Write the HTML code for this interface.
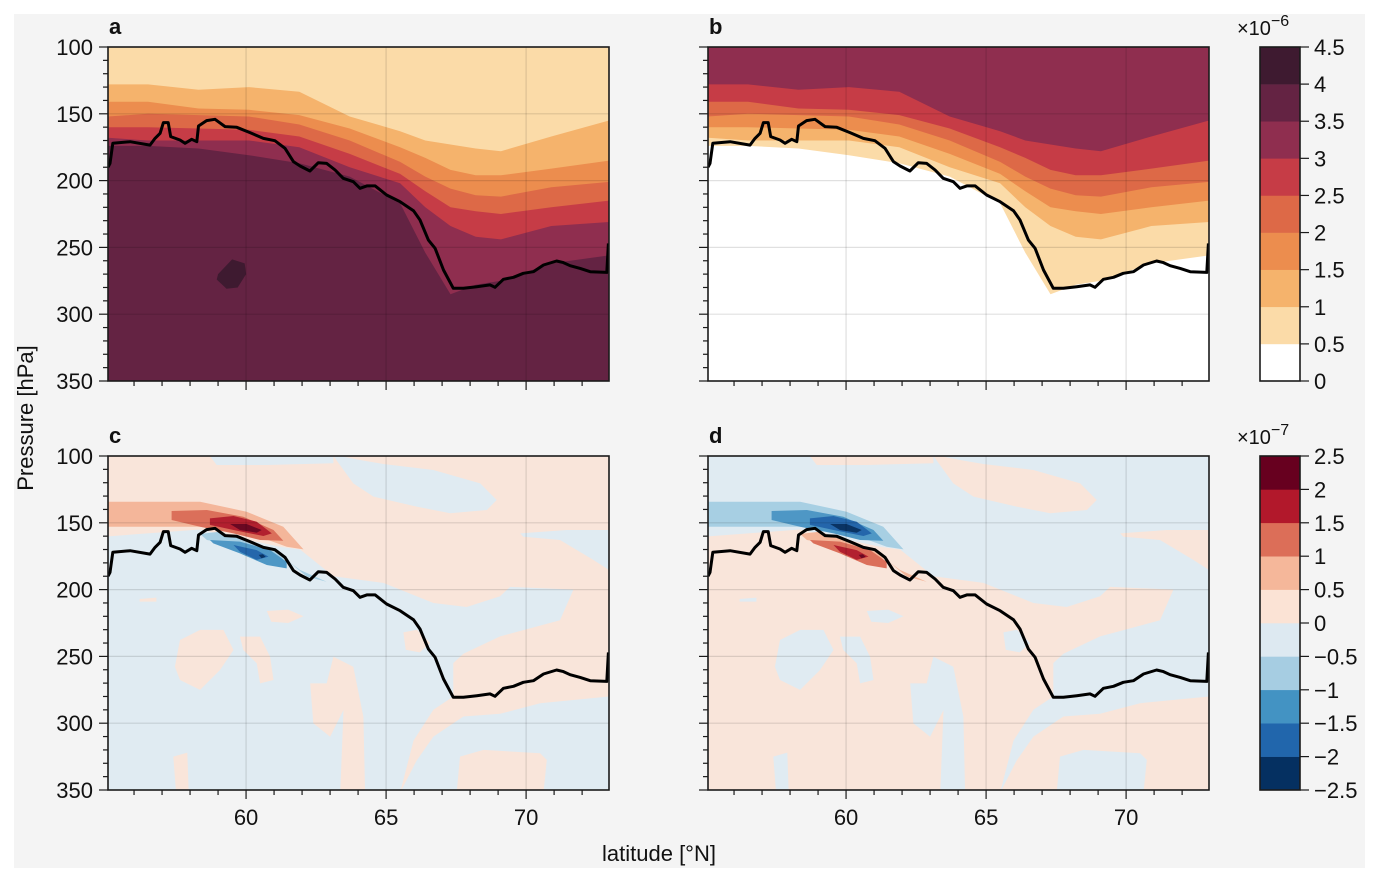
<!DOCTYPE html>
<html><head><meta charset="utf-8"><style>
body{margin:0;background:#fff}
svg{display:block;font-family:"Liberation Sans",sans-serif}
</style></head><body>
<svg id="fig" width="1379" height="882" viewBox="0 0 1379 882">
<rect x="14" y="14" width="1351" height="854" fill="#f4f4f4"/>
</svg>
<script>
// ---- data ----
const bLats = [55.07,56.5,58.3,60.1,61.9,63.7,65.5,66.4,67.3,68.2,69.1,70.9,72.96];
const bnd1 = [128,128,132,130,133.5,152,163,170,173,176,178,167,155];
const bnd2 = [141,141,146,147,151,161,175,183,192,196,196,191,185];
const bnd3 = [152,150,151,152,158,170,186,197,206,211,212,205,201];
const bnd4 = [160,160,161,162,167,180,195,208,220,223,225,220,215];
const bnd5 = [168,170,170,170,175,190,202,220,234,242,244,234,231];
const bnd6 = [174,174,176,181,187,197,217,254,285,278,275,262,256];
const blobLat = [59.0,59.5,59.95,60.0,59.7,59.3,58.95];
const blobP = [270,259,262,270,280,281,274];
const tropLat = [55.07,55.14,55.24,55.86,56.57,56.75,56.93,57.05,57.22,57.31,57.64,57.82,58.06,58.24,58.30,58.59,58.89,59.25,59.67,60.14,60.62,61.03,61.39,61.69,61.93,62.28,62.58,62.88,63.18,63.47,63.83,64.07,64.31,64.61,65.02,65.5,65.98,66.21,66.51,66.75,67.05,67.40,67.76,68.24,68.71,68.89,69.19,69.55,69.9,70.26,70.62,71.09,71.33,71.57,71.93,72.29,72.88,72.94];
const tropP = [190,187.1,172.1,170.9,173.4,168.4,164.6,156.6,156.6,167.1,169.6,172.1,169.1,170.9,159.1,155.1,154.1,159.6,160.1,164.1,168.4,170.1,175.8,185.8,189.1,192.8,186.6,187.1,192.1,198.3,200.8,205.8,204.0,204.0,210.8,215.8,222.5,229.5,244.5,250.7,266.9,280.6,280.6,279.4,278.1,279.9,273.9,272.4,269.4,268.2,263.2,260.2,261.4,263.7,265.7,268.2,268.7,247.0];
// anomaly patches (panel c sign; panel d is negated)
const patchLevel = [1,-1,-1,-1,1,1,1,1,1,1,1,1,2,3,4,5,-2,-3,-4,-5];
const patchLat = [
 [55.07,72.96,72.96,70.5,69.07,67.76,66.69,66.09,65.5,65.98,66.69,67.4,67.4,67.76,69.07,71.21,71.69,69.43,69.07,67.88,66.69,64.9,63.12,61.93,61.21,58.36,55.14,55.07],
 [58.71,63.12,63.12,60.74,58.95],
 [63.12,63.83,64.55,66.09,67.29,68.6,68.95,68.36,66.69,64.9,64.07,63.36],
 [69.79,71.45,72.96,72.96,72.4,71.21,69.9],
 [67.52,67.64,68.48,70.5,70.74,70.62],
 [57.64,58.36,59.19,59.55,59.07,58.36,57.64,57.46],
 [59.78,60.5,60.86,60.98,60.5,60.38,59.9],
 [63.12,63.83,64.19,64.25,63.36,63.48,63.0,62.4,62.29,62.88],
 [60.74,61.5,62.05,61.5,60.9],
 [65.62,66.1,66.57,66.2,65.7],
 [57.4,57.9,57.95,57.5],
 [56.2,56.8,56.8,56.2],
 [55.07,58.36,60.02,61.33,62.05,61.45,60.14,58.36,55.07],
 [57.34,58.6,59.9,60.98,61.33,60.5,59.55,58.36,57.34],
 [58.71,59.55,60.38,60.92,60.62,59.55,58.71],
 [59.43,60.02,60.56,60.38,59.78],
 [58.36,59.07,60.98,61.93,62.88,62.17,61.45,60.02,58.6,58.36],
 [58.71,59.78,60.86,61.45,61.45,60.74,59.78,58.83],
 [59.55,60.38,60.8,60.38,59.78],
 [60.45,60.6,60.7,60.55]];
const patchP = [
 [100,100,280,285,293,295,310,328,352,313,290,280,255,248,235,223,200,198,205,213,210,195,190,170,168,155,160,160],
 [100,100,105.5,106.7,106.7],
 [100,120.5,130.4,137.9,142.9,140.4,132.9,120.5,110.5,106,103,100],
 [157.9,155.4,155.4,185.3,177.8,162.9,160.4],
 [352,325,320,322.5,327.5,352],
 [237.7,230.2,230.2,245.2,260.2,275.1,267.7,257.7],
 [235.2,235.2,250.2,267.7,270.2,255.2,245.2],
 [250.2,257.7,295.1,352.5,352.5,290.1,310.1,300.1,270.2,270.2],
 [216,215,220,225,224],
 [232,230,240,247,245],
 [325,322,352,352],
 [207,206,209,209],
 [134.2,134.2,141.7,152.9,169.9,167.9,157.9,152.9,152.9],
 [141.2,140.4,145.4,155.4,163.4,162.9,157.9,152.9,147.9],
 [146.7,144.9,149.2,157.9,159.9,155.4,151.6],
 [150.9,150.9,155.4,157.4,155.4],
 [158.4,156.6,170.4,185.3,194.1,190.3,177.8,167.9,162.9,158.4],
 [162.9,164.1,170.4,179.1,184.1,181.6,172.9,165.4],
 [166.6,170.4,175.3,177.8,171.6],
 [174,173.5,175.5,176.5]];
const yTicks = [100,150,200,250,300,350];
const xTicks = [60,65,70];
const cbTopTicks = ['0','0.5','1','1.5','2','2.5','3','3.5','4','4.5'];
const cbBotTicks = ['\u22122.5','\u22122','\u22121.5','\u22121','\u22120.5','0','0.5','1','1.5','2','2.5'];
// ---- rendering ----
const NS='http://www.w3.org/2000/svg', svg=document.getElementById('fig');
const LAT0=55.07, LAT1=72.96, W=501, H=334, FS=22;
const seqCols=['#ffffff','#fbdba8','#f5b36c','#ec8d4e','#dd6947','#c63c46','#8f2e4f','#642343','#3e1a30'];
const divCol={'1':'#f9e5da','2':'#f4b69a','3':'#db6f5a','4':'#b2202f','5':'#6a0822','-1':'#e0ebf2','-2':'#a7cfe3','-3':'#4e97c5','-4':'#2466ab','-5':'#0a3464'};
function mk(tag,attrs,parent){const e=document.createElementNS(NS,tag);for(const k in attrs)e.setAttribute(k,attrs[k]);(parent||svg).appendChild(e);return e;}
function makeAxes(x0,y0){return {X:l=>x0+(l-LAT0)/(LAT1-LAT0)*W, Y:p=>y0+(p-100)/250*H};}
function polyPts(ax,la,pa){return la.map((l,i)=>ax.X(l).toFixed(1)+','+ax.Y(pa[i]).toFixed(1)).join(' ');}
const boundaries=[bnd1,bnd2,bnd3,bnd4,bnd5,bnd6];
const panels=[{id:'a',x:108,y:47,type:'total'},{id:'b',x:708,y:47,type:'part'},{id:'c',x:108,y:456,type:'anom',sign:1},{id:'d',x:708,y:456,type:'anom',sign:-1}];
panels.forEach((pn,pi)=>{
 const ax=makeAxes(pn.x,pn.y);
 const cp=mk('clipPath',{id:'clip'+pn.id});mk('rect',{x:pn.x,y:pn.y,width:W,height:H},cp);
 const g=mk('g',{'clip-path':'url(#clip'+pn.id+')'});
 
 
 if(pn.type!=='anom'){
  const order = pn.type==='total' ? [1,2,3,4,5,6,7] : [6,5,4,3,2,1,0];
  const bg=mk('rect',{x:pn.x,y:pn.y,width:W,height:H,fill:seqCols[order[0]]},g);
  
  
  boundaries.forEach((b,k)=>{
   const la=bLats.concat([LAT1,LAT0]), pa=b.concat([360,360]);
   const e=mk('polygon',{points:polyPts(ax,la,pa),fill:seqCols[order[k+1]]},g);
   
   
  });
  if(pn.type==='total'){
   const e=mk('polygon',{points:polyPts(ax,blobLat,blobP),fill:seqCols[8]},g);
   
   
  }
 } else {
  const bg=mk('rect',{x:pn.x,y:pn.y,width:W,height:H,fill:divCol[String(-1*pn.sign)]},g);
  
  
  patchLevel.forEach((lv,i)=>{
   const e=mk('polygon',{points:polyPts(ax,patchLat[i],patchP[i]),fill:divCol[String(lv*pn.sign)]},g);
   
   
  });
 }
 xTicks.forEach(t=>{const e=mk('line',{x1:ax.X(t),x2:ax.X(t),y1:pn.y,y2:pn.y+H,stroke:'#000','stroke-opacity':0.12,'stroke-width':1.2},g);
  });
 yTicks.slice(1,-1).forEach(t=>{const e=mk('line',{x1:pn.x,x2:pn.x+W,y1:ax.Y(t),y2:ax.Y(t),stroke:'#000','stroke-opacity':0.12,'stroke-width':1.2},g);
  });
 const tl=mk('polyline',{points:polyPts(ax,tropLat,tropP),fill:'none',stroke:'#000','stroke-width':3,'stroke-linejoin':'round'},g);
 
 
 const fr=mk('rect',{x:pn.x,y:pn.y,width:W,height:H,fill:'none',stroke:'#1a1a1a','stroke-width':1.6});
 
 
 for(let l=56;l<=72;l++){const maj=xTicks.includes(l);
  const e=mk('line',{x1:ax.X(l),x2:ax.X(l),y1:pn.y+H,y2:pn.y+H+(maj?9:5),stroke:'#1a1a1a','stroke-width':1.2});
  }
 for(let p=100;p<=350;p+=10){const maj=p%50===0;
  const e=mk('line',{x1:pn.x,x2:pn.x-(maj?9:5),y1:ax.Y(p),y2:ax.Y(p),stroke:'#1a1a1a','stroke-width':1.2});
  }
 if(pn.id==='a'||pn.id==='c'){yTicks.forEach(t=>{const e=mk('text',{x:pn.x-15,y:ax.Y(t)+8,'text-anchor':'end','font-size':FS,fill:'#111'});e.textContent=t;
  });}
 if(pn.id==='c'||pn.id==='d'){xTicks.forEach(t=>{const e=mk('text',{x:ax.X(t),y:pn.y+H+35,'text-anchor':'middle','font-size':FS,fill:'#111'});e.textContent=t;
  });}
 const lb=mk('text',{x:pn.x+1,y:pn.y-13,'font-size':FS,'font-weight':'bold',fill:'#111'});lb.textContent=pn.id;
 
});
function colorbar(y0,cols,ticks,offset,name){
 const n=cols.length,h=334/n;
 cols.forEach((c,i)=>{const e=mk('rect',{x:1260,y:y0+334-(i+1)*h,width:40,height:h+0.3,fill:c});
  });
 const f=mk('rect',{x:1260,y:y0,width:40,height:334,fill:'none',stroke:'#1a1a1a','stroke-width':1.6});
 
 ticks.forEach((t,i)=>{const y=y0+334-i*334/(ticks.length-1);
  const l=mk('line',{x1:1300,x2:1309,y1:y,y2:y,stroke:'#1a1a1a','stroke-width':1.2});
  
  const e=mk('text',{x:1314,y:y+8,'font-size':FS,fill:'#111'});e.textContent=t;
  });
 const o=mk('text',{x:1237,y:y0-12,'font-size':20,fill:'#111'});
 o.innerHTML='\u00d710<tspan dy="-9" font-size="16">'+offset+'</tspan>';
 
}
colorbar(47,seqCols.slice(0,9),cbTopTicks,'\u22126','colorbar-top');
colorbar(456,['#053061','#2166ac','#4393c3','#a6cde2','#dde9f1','#fbe3d5','#f5b79a','#dc6e58','#b2182b','#67001f'],cbBotTicks,'\u22127','colorbar-bottom');
const yl=mk('text',{x:0,y:0,'font-size':FS,'text-anchor':'middle',fill:'#111',transform:'translate(33,418) rotate(-90)'});yl.textContent='Pressure [hPa]';

const xl=mk('text',{x:659,y:861,'font-size':FS,'text-anchor':'middle',fill:'#111'});xl.textContent='latitude [\u00b0N]';

</script>
</body></html>
